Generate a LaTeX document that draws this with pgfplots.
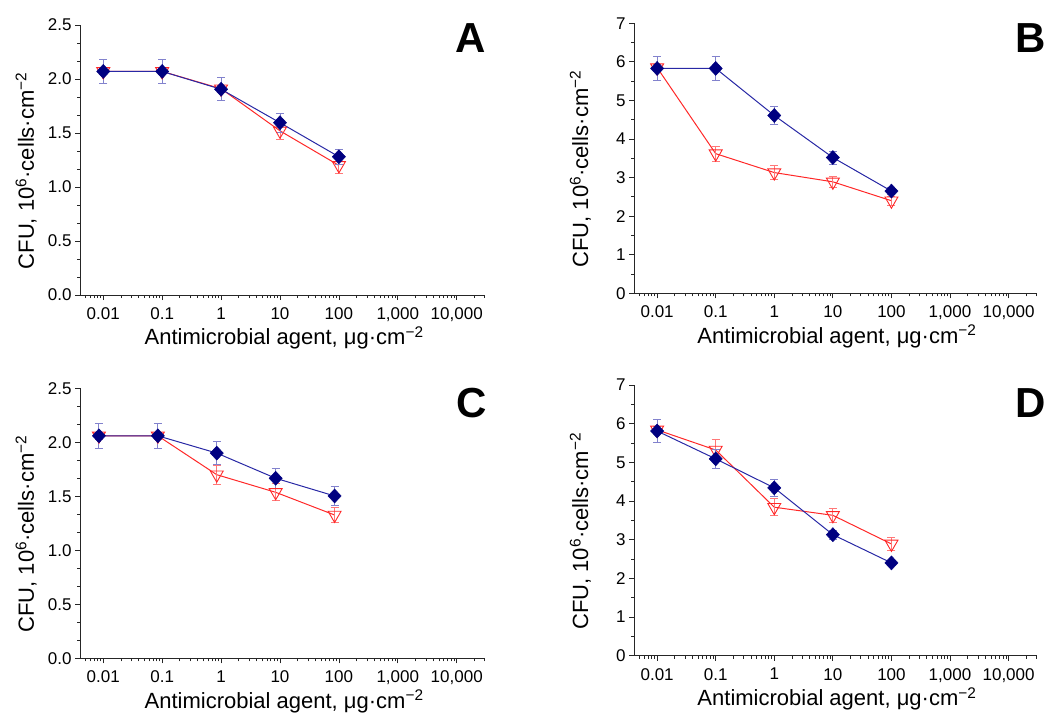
\documentclass[border=0pt]{standalone}
\usepackage{pgfplots}
\pgfplotsset{compat=1.18}
\usepackage{fontspec}
\setmainfont{Liberation Sans}
\definecolor{navy}{RGB}{0,0,128}
\definecolor{bline}{RGB}{40,40,165}
\definecolor{rline}{RGB}{255,40,40}
\definecolor{berr}{RGB}{130,130,205}
\definecolor{rerr}{RGB}{255,120,120}
\pgfplotsset{
  /pgfplots/mypanel/.style={
    scale only axis, width=405pt, height=270pt,
    xmin=0.00403, xmax=30200,
    axis x line=bottom, axis y line=left,
    axis line style={-, line width=0.9pt, black!85},
    tick align=outside, major tick length=5pt, minor tick length=3pt,
    every tick/.style={black!85, line width=0.8pt},
    xtick={0.01,0.1,1,10,100,1000,10000},
    xticklabels={0.01,0.1,1,10,100,{1,000},{10,000}},
    minor xtick={0.005,0.006,0.007,0.008,0.009,0.02,0.03,0.04,0.05,0.06,0.07,0.08,0.09,0.2,0.3,0.4,0.5,0.6,0.7,0.8,0.9,2,3,4,5,6,7,8,9,20,30,40,50,60,70,80,90,200,300,400,500,600,700,800,900,2000,3000,4000,5000,6000,7000,8000,9000,20000,30000},
    tick label style={font=\fontsize{17}{20}\selectfont},
    xticklabel style={yshift=-4pt},
    xlabel={Antimicrobial agent, μg·cm\textsuperscript{−2}},
    ylabel={CFU, 10\textsuperscript{6}·cells·cm\textsuperscript{−2}},
    xlabel style={font=\fontsize{22}{26}\selectfont, at={(axis description cs:0.504,-0.185)}, anchor=base},
    ylabel style={font=\fontsize{22}{26}\selectfont, at={(axis description cs:-0.114,0.46)}, anchor=base},
    clip=false,
  },
  /pgfplots/mysmall/.style={ymin=0, ymax=2.5, ytick={0,0.5,1,1.5,2,2.5}, minor y tick num=2,
    yticklabel style={/pgf/number format/fixed, /pgf/number format/fixed zerofill, /pgf/number format/precision=1}},
  /pgfplots/mybig/.style={ymin=0, ymax=7, ytick={0,1,2,3,4,5,6,7}, minor y tick num=1},
  /pgfplots/myred/.style={color=rline, line width=1pt, mark=triangle, mark size=7.5pt,
    mark options={rotate=180, fill=white, draw=rline, line width=0.9pt},
    error bars/y dir=both, error bars/y explicit,
    error bars/error bar style={rerr, line width=0.9pt},
    error bars/error mark options={rotate=90, mark size=4pt, rerr, line width=0.9pt}},
  /pgfplots/myblue/.style={color=bline, line width=1pt, mark=diamond*, mark size=7pt,
    mark options={xscale=1.25, fill=navy, draw=navy, line width=0.5pt},
    error bars/y dir=both, error bars/y explicit,
    error bars/error bar style={berr, line width=0.9pt},
    error bars/error mark options={rotate=90, mark size=4pt, berr, line width=0.9pt}},
}
\newcommand{\panelletter}[2]{\node[font=\fontsize{42}{46}\selectfont\bfseries, anchor=center] at (#1) {#2};}
\begin{document}
\begin{tikzpicture}
\useasboundingbox (0pt,0pt) rectangle (1046pt,713pt);
% Panel A
\begin{semilogxaxis}[mypanel, mysmall, at={(80pt,418pt)}, anchor=south west, /pgf/number format/assume math mode=true]
\addplot[myred] table[x=x,y=y,y error=e]{
x y e
0.01 2.07 0.03
0.1 2.07 0.03
1 1.91 0.03
10 1.52 0.08
100 1.20 0.07
};
\addplot[myblue] table[x=x,y=y,y error=e]{
x y e
0.01 2.07 0.11
0.1 2.07 0.11
1 1.905 0.105
10 1.595 0.09
100 1.28 0.07
};
\panelletter{rel axis cs:0.965,0.952}{A}
\end{semilogxaxis}
% Panel B
\begin{semilogxaxis}[mypanel, mybig, width=402.7pt, at={(634pt,419.7pt)}, anchor=south west, /pgf/number format/assume math mode=true]
\addplot[myred] table[x=x,y=y,y error=e]{
x y e
0.01 5.85 0.08
0.1 3.62 0.2
1 3.13 0.18
10 2.89 0.15
100 2.40 0.12
};
\addplot[myblue] table[x=x,y=y,y error=e]{
x y e
0.01 5.83 0.3
0.1 5.83 0.3
1 4.61 0.23
10 3.52 0.17
100 2.65 0.1
};
\panelletter{rel axis cs:0.986,0.946}{B}
\end{semilogxaxis}
% Panel C
\begin{semilogxaxis}[mypanel, mysmall, at={(80pt,54.7pt)}, anchor=south west, /pgf/number format/assume math mode=true]
\addplot[myred] table[x=x,y=y,y error=e]{
x y e
0.00845 2.06 0.03
0.0845 2.06 0.03
0.845 1.70 0.09
8.45 1.537 0.08
84.5 1.327 0.07
};
\addplot[myblue] table[x=x,y=y,y error=e]{
x y e
0.00845 2.06 0.115
0.0845 2.06 0.115
0.845 1.90 0.105
8.45 1.667 0.09
84.5 1.503 0.09
};
\panelletter{rel axis cs:0.966,0.944}{C}
\end{semilogxaxis}
% Panel D
\begin{semilogxaxis}[mypanel, mybig, width=402.7pt, height=270.7pt, at={(634pt,57.3pt)}, anchor=south west, /pgf/number format/assume math mode=true]
\addplot[myred] table[x=x,y=y,y error=e]{
x y e
0.01 5.84 0.08
0.1 5.32 0.28
1 3.84 0.22
10 3.63 0.18
100 2.89 0.16
};
\addplot[myblue] table[x=x,y=y,y error=e]{
x y e
0.01 5.81 0.3
0.1 5.09 0.25
1 4.34 0.23
10 3.13 0.12
100 2.40 0.06
};
\panelletter{rel axis cs:0.986,0.934}{D}
\end{semilogxaxis}
\end{tikzpicture}
\end{document}
